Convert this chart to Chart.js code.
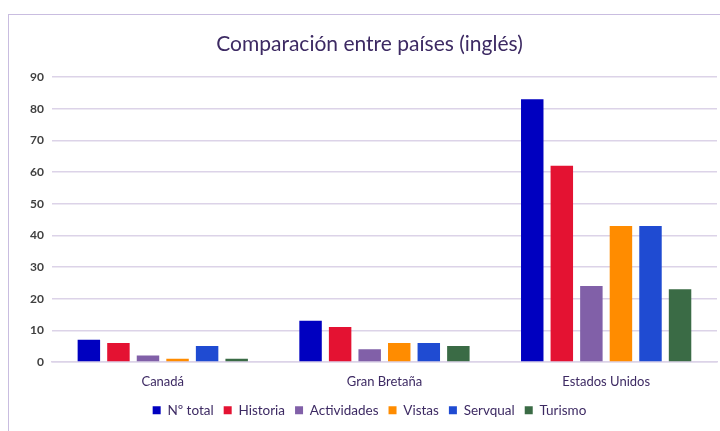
<!DOCTYPE html>
<html>
<head>
<meta charset="utf-8">
<script src="https://cdn.jsdelivr.net/npm/chart.js@4"></script>
<style>
  html, body { margin: 0; padding: 0; background: #fff; }
  #wrap { position: relative; width: 720px; height: 431px; overflow: hidden; }
  #frame { position: absolute; left: 8px; top: 14px; width: 760px; height: 460px; border: 1px solid #c9bde0; }
  canvas { position: absolute; left: 0; top: 0; }
</style>
</head>
<body>
<div id="wrap">
  <div id="frame"></div>
  <canvas id="chart" width="720" height="431"></canvas>
</div>
<script>
// Chart data
const countries = ['Canadá', 'Gran Bretaña', 'Estados Unidos'];
const totalVals = [7, 13, 83];
const historiaVals = [6, 11, 62];
const actividadesVals = [2, 4, 24];
const vistasVals = [1, 6, 43];
const servqualVals = [5, 6, 43];
const turismoVals = [1, 5, 23];

const seriesNames = ['Nº total', 'Historia', 'Actividades', 'Vistas', 'Servqual', 'Turismo'];
const seriesColors = ['#0000c0', '#e41232', '#8160a8', '#ff8c00', '#1f4bd2', '#3a6b45'];
const seriesData = [totalVals, historiaVals, actividadesVals, vistasVals, servqualVals, turismoVals];

const textColor = '#3d2a63';
const gridColor = '#dcd3e8';

const ctx = document.getElementById('chart').getContext('2d');
new Chart(ctx, {
  type: 'bar',
  data: {
    labels: countries,
    datasets: seriesNames.map((name, i) => ({
      label: name,
      data: seriesData[i],
      backgroundColor: seriesColors[i],
      borderWidth: 0,
      categoryPercentage: 0.8,
      barPercentage: 0.76
    }))
  },
  options: {
    responsive: false,
    animation: false,
    layout: { padding: { left: 22, right: 3, top: 32, bottom: 4 } },
    scales: {
      y: {
        min: 0,
        max: 90,
        ticks: { stepSize: 10, color: '#404040', padding: 8, font: { family: 'Lato', size: 12, weight: 'bold' } },
        grid: { color: gridColor, lineWidth: 1.5, drawTicks: false },
        border: { display: false }
      },
      x: {
        ticks: { color: textColor, padding: 4, font: { family: 'Lato', size: 13 } },
        grid: { display: false },
        border: { color: gridColor, width: 1.5 }
      }
    },
    plugins: {
      title: {
        display: true,
        text: 'Comparación entre países (inglés)',
        color: textColor,
        font: { family: 'Lato', size: 21, weight: 'normal' },
        padding: { top: 0, bottom: 20 }
      },
      legend: {
        position: 'bottom',
        labels: {
          color: textColor,
          boxWidth: 8,
          boxHeight: 8,
          padding: 10,
          font: { family: 'Lato', size: 13.5 }
        }
      },
      tooltip: { enabled: false }
    }
  }
});
</script>
</body>
</html>
